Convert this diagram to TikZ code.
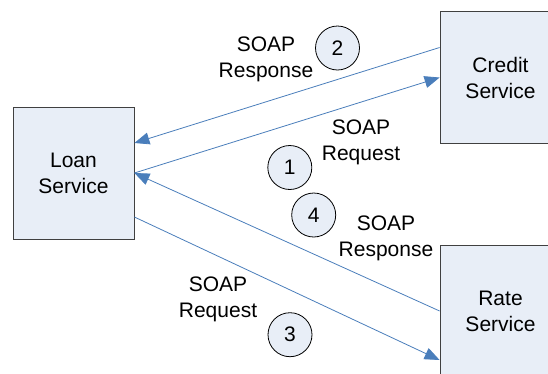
\documentclass[tikz,border=0pt]{standalone}
\usepackage{fontspec}
\setmainfont{Liberation Sans}
\usetikzlibrary{arrows.meta}
\definecolor{boxfill}{HTML}{E8EEF7}
\definecolor{linkblue}{HTML}{4A7EBB}
\begin{document}
\begin{tikzpicture}[x=1pt, y=-1pt,
	every node/.style={font=\fontsize{21}{26}\selectfont},
	service/.style={draw=black!75, fill=boxfill, line width=0.8pt, minimum width=121pt, minimum height=132pt, inner sep=0pt, align=center},
	num/.style={circle, draw=black, fill=boxfill, line width=0.8pt, minimum size=44pt, inner sep=0pt},
	msg/.style={align=center, inner sep=0pt},
	link/.style={linkblue, line width=0.8pt, -{Triangle[length=15pt, width=12pt]}}]
			\useasboundingbox (0,0) rectangle (548,373);
			\clip (0,0) rectangle (548,373);
			\node [service] (loan) at (73.5,173) {Loan\\Service};
			\node [service] (credit) at (500.5,77.5) {Credit\\Service};
			\node [service] (rate) at (500.5,311) {Rate\\Service};
			\draw [link] ([yshift=30pt]credit.west) -- ([yshift=30pt]loan.east);
			\draw [link] (loan.east) -- (credit.west);
			\draw [link] (rate.west) -- (loan.east);
			\draw [link] ([yshift=-44pt]loan.east) -- ([yshift=-49pt]rate.west);
			\foreach \n/\x/\y in {1/289.8/167.5, 2/337.5/48, 3/290/334.7, 4/313.7/215}
				\node [num] (step\n) at (\x,\y) {\n};
			\node [msg] (resp2) at (266,59) {SOAP\\Response};
			\node [msg] (req1) at (361,142.5) {SOAP\\Request};
			\node [msg] (resp4) at (386,238.5) {SOAP\\Response};
			\node [msg] (req3) at (218,299) {SOAP\\Request};
\end{tikzpicture}
\end{document}
